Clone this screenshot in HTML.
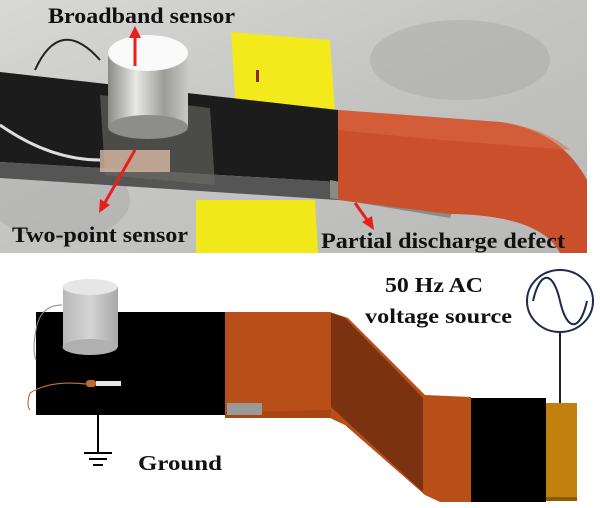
<!DOCTYPE html>
<html><head><meta charset="utf-8"><style>
html,body{margin:0;padding:0;background:#fff;width:600px;height:508px;overflow:hidden}
svg{display:block}
text{font-family:"Liberation Serif",serif;font-weight:bold;fill:#111}
</style></head><body>
<svg width="600" height="508" viewBox="0 0 600 508" xmlns="http://www.w3.org/2000/svg">
<defs>
<linearGradient id="bg" x1="0" y1="0" x2="1" y2="1">
<stop offset="0" stop-color="#d8d8d6"/><stop offset="0.5" stop-color="#c4c4c2"/><stop offset="1" stop-color="#b8b8b6"/>
</linearGradient>
<linearGradient id="cyl" x1="0" y1="0" x2="1" y2="0">
<stop offset="0" stop-color="#8a8a86"/><stop offset="0.35" stop-color="#e8e8e4"/><stop offset="0.7" stop-color="#9c9c98"/><stop offset="1" stop-color="#c8c8c4"/>
</linearGradient>
<linearGradient id="cyl2" x1="0" y1="0" x2="1" y2="0">
<stop offset="0" stop-color="#b8b8b8"/><stop offset="0.5" stop-color="#d4d4d4"/><stop offset="1" stop-color="#a8a8a8"/>
</linearGradient>
</defs>
<!-- photo -->
<rect x="0" y="0" width="587" height="253" fill="url(#bg)"/>
<ellipse cx="460" cy="60" rx="90" ry="40" fill="#a9a9a7" opacity="0.5"/>
<ellipse cx="60" cy="200" rx="70" ry="40" fill="#aaa" opacity="0.5"/>
<!-- yellow holders -->
<polygon points="231,32 330,40 335,112 236,110" fill="#f2ea1a"/>
<polygon points="196,200 315,200 318,253 196,253" fill="#f0e818"/>
<rect x="256" y="70" width="3" height="12" fill="#8a2a10"/>
<!-- black bar -->
<polygon points="0,72 338,110 338,182 0,162" fill="#1c1c1c"/>
<polygon points="0,162 338,182 338,200 0,178" fill="#555"/>
<polygon points="100,95 210,108 215,185 105,175" fill="#6a6a66" opacity="0.6"/>
<polygon points="330,180 455,205 450,218 330,198" fill="#8a8a86"/>
<!-- orange -->
<path d="M338,110 L500,122 Q560,130 587,180 L587,253 L560,253 Q540,215 450,214 L338,200 Z" fill="#c9502a"/>
<path d="M338,110 L500,122 Q545,128 570,150 L440,140 L338,130 Z" fill="#dd6a45" opacity="0.5"/>
<!-- cylinder sensor -->
<rect x="108" y="53" width="80" height="74" fill="url(#cyl)"/>
<ellipse cx="148" cy="127" rx="40" ry="12" fill="#8d8d89"/>
<ellipse cx="148" cy="53" rx="40" ry="18" fill="#fafafa"/>
<path d="M100,60 Q60,15 35,70" stroke="#222" stroke-width="2" fill="none"/>
<path d="M0,125 Q50,160 100,160" stroke="#ddd" stroke-width="3" fill="none"/>
<rect x="100" y="150" width="70" height="22" fill="#d9b9a5" opacity="0.8"/>
<!-- red arrows -->
<g stroke="#e8201a" stroke-width="3" fill="#e8201a">
<line x1="135" y1="66" x2="135" y2="34"/>
<line x1="135" y1="150" x2="103" y2="206"/>
<line x1="355" y1="203" x2="370" y2="224"/>
</g>
<g fill="#e8201a">
<polygon points="135,26 129,38 141,38"/>
<polygon points="99,213 100,199 110,205"/>
<polygon points="374,230 362,222 372,216"/>
</g>
<text x="48" y="23" font-size="22" textLength="187" lengthAdjust="spacingAndGlyphs">Broadband sensor</text>
<text x="12" y="242" font-size="22" textLength="176" lengthAdjust="spacingAndGlyphs">Two-point sensor</text>
<text x="321" y="248" font-size="22" textLength="244" lengthAdjust="spacingAndGlyphs">Partial discharge defect</text>

<!-- diagram -->
<rect x="36" y="312" width="189" height="103" fill="#000"/>
<polygon points="225,312 330,312 348,318 425,395 471,397 471,502 440,502 425,495 345,425 330,418 225,418" fill="#b84f18"/>
<polygon points="331,313 345,318 423,398 423,492 331,407" fill="#7b3210"/>
<polygon points="423,398 471,398 471,500 423,494" fill="#b84f18"/>
<polygon points="225,412 331,410 331,418 225,418" fill="#a84612"/>
<rect x="227" y="403" width="35" height="12" fill="#999"/>
<rect x="471" y="398" width="75" height="104" fill="#000"/>
<rect x="546" y="403" width="31" height="96" fill="#c2800e"/>
<rect x="546" y="497" width="31" height="4" fill="#8d5a08"/>
<!-- cylinder diagram -->
<rect x="63" y="287" width="55" height="60" fill="url(#cyl2)"/>
<ellipse cx="90" cy="347" rx="27.5" ry="8" fill="#b0b0b0"/>
<ellipse cx="90" cy="287" rx="27.5" ry="8" fill="#e6e6e6"/>
<path d="M62,305 Q40,305 36,330 Q32,350 36,360" stroke="#888" stroke-width="1" fill="none"/>
<path d="M86,384 Q50,380 30,393 Q26,405 30,410" stroke="#c87040" stroke-width="1.2" fill="none"/>
<rect x="86" y="380" width="10" height="7" rx="3" fill="#c06a30"/>
<rect x="96" y="381" width="25" height="5" fill="#e8e8e8"/>
<!-- ground -->
<line x1="98" y1="415" x2="98" y2="453" stroke="#000" stroke-width="2"/>
<line x1="84" y1="453" x2="112" y2="453" stroke="#000" stroke-width="2"/>
<line x1="89" y1="459" x2="107" y2="459" stroke="#000" stroke-width="2"/>
<line x1="93" y1="465" x2="103" y2="465" stroke="#000" stroke-width="2"/>
<text x="138" y="470" font-size="21" textLength="84" lengthAdjust="spacingAndGlyphs">Ground</text>
<!-- source -->
<line x1="560" y1="332" x2="560" y2="403" stroke="#222" stroke-width="2"/>
<ellipse cx="560" cy="301" rx="33" ry="31" fill="#fff" stroke="#1a2a50" stroke-width="2"/>
<path d="M533,301 C540,270 553,270 560,301 C567,332 580,332 587,301" stroke="#1a2a50" stroke-width="2" fill="none"/>
<text x="385" y="292" font-size="21" textLength="98" lengthAdjust="spacingAndGlyphs">50 Hz AC</text>
<text x="365" y="323" font-size="21" textLength="147" lengthAdjust="spacingAndGlyphs">voltage source</text>
</svg>
</body></html>
